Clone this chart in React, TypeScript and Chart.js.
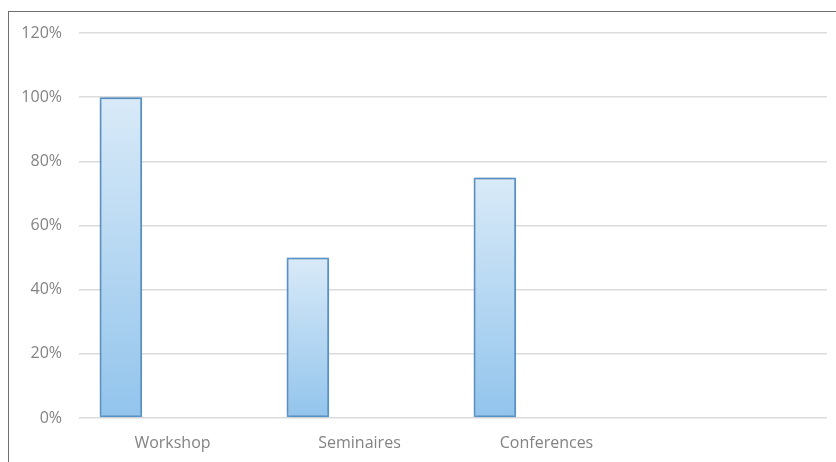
import React, { useEffect, useRef } from "react";
import { Chart, registerables } from "chart.js";

Chart.register(...registerables);

const categories: string[] = ["Workshop", "Seminaires", "Conferences", ""];
const participation: (number | null)[] = [100, 50, 75, null];
const emptySeriesB: (number | null)[] = [null, null, null, null];
const emptySeriesC: (number | null)[] = [null, null, null, null];
const yTicks: number[] = [0, 20, 40, 60, 80, 100, 120];

const FONT = "'Open Sans', sans-serif";
const TEXT = "#838383";
const GRID = "#dcdcdc";

function barGradient(ctx: any) {
  const chart = ctx.chart;
  const y = chart.scales?.y;
  if (!chart.chartArea || !y || ctx.raw == null) return "#b5d6f2";
  const top = y.getPixelForValue(ctx.raw);
  const bottom = y.getPixelForValue(0);
  const g = chart.ctx.createLinearGradient(0, top, 0, bottom);
  g.addColorStop(0, "#d9eaf8");
  g.addColorStop(1, "#92c4ec");
  return g;
}

const shadowPlugin = {
  id: "barShadow",
  beforeDatasetsDraw(chart: any) {
    const c = chart.ctx;
    c.save();
    c.shadowColor = "rgba(0,0,0,0.3)";
    c.shadowBlur = 5;
    c.shadowOffsetX = 0;
    c.shadowOffsetY = 0;
  },
  afterDatasetsDraw(chart: any) {
    chart.ctx.restore();
  },
};

export default function App() {
  const ref = useRef<HTMLCanvasElement | null>(null);

  useEffect(() => {
    if (!ref.current) return;
    const ds = (data: (number | null)[]) => ({
      data,
      backgroundColor: barGradient,
      borderColor: "#5b9bd5",
      borderWidth: 2,
      borderSkipped: false as const,
      categoryPercentage: 0.828,
      barPercentage: 0.825,
    });
    const chart = new Chart(ref.current, {
      type: "bar",
      data: {
        labels: categories,
        datasets: [ds(participation), ds(emptySeriesB), ds(emptySeriesC)],
      },
      options: {
        animation: false,
        responsive: false,
        maintainAspectRatio: false,
        devicePixelRatio: 1,
        layout: { padding: { top: 33, right: 9, left: 0, bottom: 0 } },
        plugins: {
          legend: { display: false },
          tooltip: { enabled: false },
        },
        scales: {
          x: {
            grid: { display: false, drawTicks: false },
            border: { display: false },
            ticks: {
              color: TEXT,
              font: { family: FONT, size: 16 },
              padding: 16,
              maxRotation: 0,
              autoSkip: false,
            },
            afterFit(scale: any) {
              scale.height = 44;
            },
          },
          y: {
            min: 0,
            max: 120,
            afterBuildTicks(scale: any) {
              scale.ticks = yTicks.map((v) => ({ value: v }));
            },
            grid: { color: GRID, lineWidth: 1.5, drawTicks: false },
            border: { display: false },
            ticks: {
              color: TEXT,
              font: { family: FONT, size: 16 },
              padding: 17,
              callback: (v: any) => `${v}%`,
            },
            afterFit(scale: any) {
              scale.width = 79;
            },
          },
        },
      },
      plugins: [shadowPlugin],
    });
    return () => chart.destroy();
  }, []);

  return (
    <div style={{ position: "fixed", left: 0, top: 0, width: 836, height: 462, background: "#fff" }}>
      <canvas ref={ref} width={836} height={462} style={{ position: "absolute", left: 0, top: 0, width: 836, height: 462 }} />
      <div
        style={{
          position: "absolute",
          left: 8,
          top: 11,
          width: 840,
          height: 460,
          borderTop: "1px solid #6f6f6f",
          borderLeft: "1px solid #6f6f6f",
          pointerEvents: "none",
        }}
      />
    </div>
  );
}
